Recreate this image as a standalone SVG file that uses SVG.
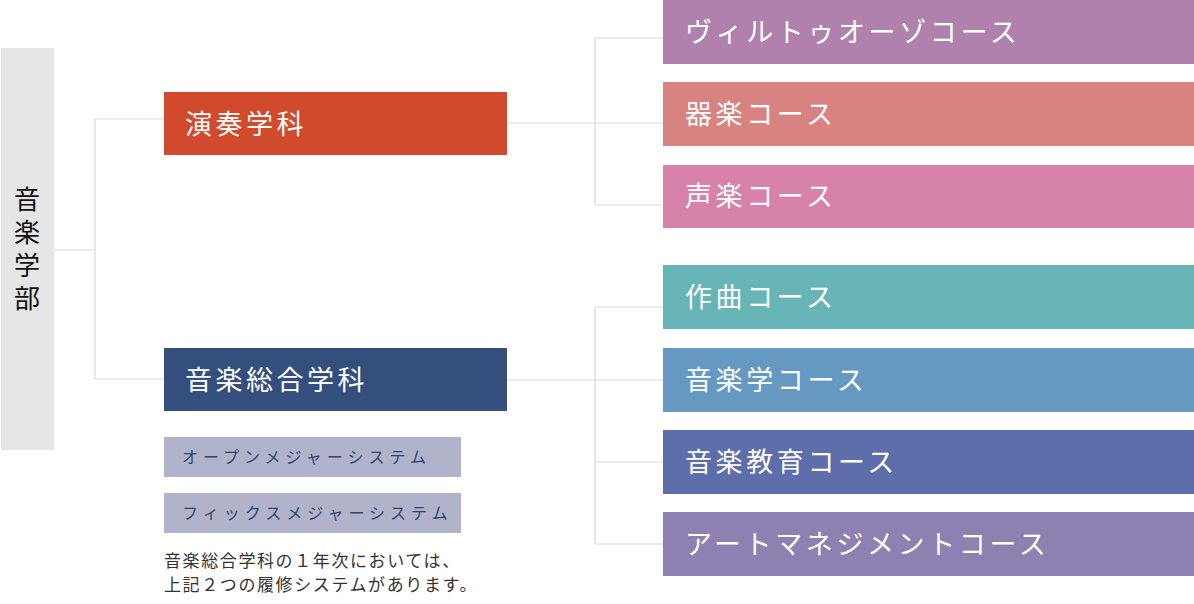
<svg xmlns="http://www.w3.org/2000/svg" width="1194" height="604" viewBox="0 0 1194 604">
<style>
.ln{stroke:#d9d9d9;stroke-width:1.2;fill:none}
.big{font-family:"Noto Sans CJK JP","Noto Sans",sans-serif;font-size:27px;fill:#ffffff;letter-spacing:3.5px}
.crs{font-family:"Noto Sans CJK JP","Noto Sans",sans-serif;font-size:27px;fill:#ffffff;letter-spacing:3.6px}
.sm{font-family:"Noto Sans CJK JP","Noto Sans",sans-serif;font-size:16px;fill:#2b4675;letter-spacing:5px}
.note{font-family:"Noto Sans CJK JP","Noto Sans",sans-serif;font-size:17px;fill:#333333;letter-spacing:1.6px}
.dep{font-family:"Noto Sans CJK JP","Noto Sans",sans-serif;font-size:26px;fill:#111111;writing-mode:vertical-rl;letter-spacing:7px}
</style>
<rect width="1194" height="604" fill="#ffffff"/>
<g id="connectors">
<path class="ln" d="M54 250H95M95 119V379M95 119H164M95 379H164"/>
<path class="ln" d="M507 123H663M595 38V205M595 38H663M595 205H663"/>
<path class="ln" d="M507 380H663M595 307V544M595 307H663M595 462H663M595 544H663"/>
</g>
<g id="faculty">
<rect x="1" y="48" width="53" height="402" fill="#e6e6e6"/>
<text class="dep" x="27" y="186">音楽学部</text>
</g>
<g id="dept-ensou">
<rect x="164" y="92" width="343" height="63" fill="#d14a2b"/>
<text class="big" x="185" y="134">演奏学科</text>
</g>
<g id="dept-sougou">
<rect x="164" y="348" width="343" height="63" fill="#344e7d"/>
<text class="big" x="185" y="390">音楽総合学科</text>
</g>
<g id="open-major">
<rect x="164" y="437" width="297" height="40" fill="#b0b3c9"/>
<text class="sm" x="182" y="463">オープンメジャーシステム</text>
</g>
<g id="fix-major">
<rect x="164" y="493" width="297" height="40" fill="#b0b3c9"/>
<text class="sm" x="182" y="519">フィックスメジャーシステム</text>
</g>
<g id="note">
<text class="note" x="164" y="567">音楽総合学科の１年次においては、</text>
<text class="note" x="164" y="591">上記２つの履修システムがあります。</text>
</g>
<g id="c-virtuoso">
<rect x="663" y="0" width="531" height="64" fill="#b081ad"/>
<text class="crs" x="685" y="42">ヴィルトゥオーゾコース</text>
</g>
<g id="c-kigaku">
<rect x="663" y="82" width="531" height="64" fill="#d98282"/>
<text class="crs" x="685" y="124">器楽コース</text>
</g>
<g id="c-seigaku">
<rect x="663" y="165" width="531" height="63" fill="#d782a8"/>
<text class="crs" x="685" y="206">声楽コース</text>
</g>
<g id="c-sakkyoku">
<rect x="663" y="265" width="531" height="64" fill="#67b5b6"/>
<text class="crs" x="685" y="307">作曲コース</text>
</g>
<g id="c-ongakugaku">
<rect x="663" y="348" width="531" height="64" fill="#6699c2"/>
<text class="crs" x="685" y="390">音楽学コース</text>
</g>
<g id="c-kyouiku">
<rect x="663" y="430" width="531" height="64" fill="#5d6eaa"/>
<text class="crs" x="685" y="472">音楽教育コース</text>
</g>
<g id="c-artmgmt">
<rect x="663" y="512" width="531" height="64" fill="#8e81b1"/>
<text class="crs" x="685" y="554">アートマネジメントコース</text>
</g>
</svg>
